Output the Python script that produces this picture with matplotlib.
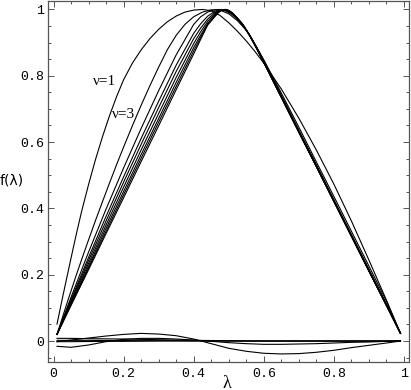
import matplotlib
matplotlib.use("Agg")
import matplotlib.pyplot as plt
from matplotlib.ticker import MultipleLocator

# lambda grid for the nu=1 and nu=3 curves
lam_a = [0.01, 0.02, 0.03, 0.04, 0.05, 0.065, 0.08, 0.10, 0.12, 0.14, 0.16, 0.18, 0.20,
         0.225, 0.25, 0.275, 0.30, 0.325, 0.35, 0.375, 0.40, 0.425, 0.45, 0.475, 0.50,
         0.525, 0.55, 0.575, 0.60, 0.65, 0.70, 0.75, 0.80, 0.85, 0.90, 0.95, 0.99]
f_nu1 = [0.051, 0.102, 0.152, 0.201, 0.250, 0.322, 0.390, 0.472, 0.548, 0.617, 0.680, 0.737, 0.788,
         0.838, 0.878, 0.912, 0.940, 0.963, 0.980, 0.992, 0.998, 1.0, 0.996, 0.982, 0.960,
         0.934, 0.905, 0.873, 0.838, 0.760, 0.672, 0.576, 0.473, 0.362, 0.244, 0.123, 0.023]
f_nu3 = [0.020, 0.053, 0.086, 0.119, 0.151, 0.199, 0.245, 0.305, 0.364, 0.421, 0.477, 0.532, 0.585,
         0.649, 0.711, 0.770, 0.826, 0.879, 0.922, 0.955, 0.978, 0.992, 0.999, 0.998, 0.987,
         0.966, 0.937, 0.893, 0.848, 0.748, 0.645, 0.540, 0.436, 0.331, 0.226, 0.120, 0.023]

# lambda grid for the higher-nu bundle (nu = 5 ... 17)
lam_b = [0.01, 0.05, 0.10, 0.15, 0.20, 0.25, 0.30, 0.35, 0.40, 0.42, 0.44, 0.46, 0.47, 0.48,
         0.49, 0.50, 0.51, 0.52, 0.54, 0.56, 0.58, 0.60, 0.65, 0.70, 0.75, 0.80, 0.85, 0.90,
         0.95, 0.99]
f_nu5 = [0.02, 0.132, 0.268, 0.398, 0.522, 0.641, 0.755, 0.863, 0.955, 0.978, 0.992, 0.999, 1.0, 0.999,
         0.996, 0.991, 0.984, 0.975, 0.952, 0.922, 0.886, 0.846, 0.741, 0.636, 0.531, 0.426, 0.321, 0.216,
         0.111, 0.023]
f_nu7 = [0.02, 0.125, 0.252, 0.376, 0.495, 0.611, 0.723, 0.832, 0.928, 0.957, 0.980, 0.994, 0.998, 1.0,
         0.998, 0.993, 0.986, 0.977, 0.953, 0.922, 0.885, 0.844, 0.739, 0.634, 0.530, 0.425, 0.320, 0.215,
         0.110, 0.023]
f_nu9 = [0.02, 0.120, 0.243, 0.362, 0.479, 0.593, 0.704, 0.813, 0.912, 0.944, 0.971, 0.990, 0.996, 0.999,
         0.999, 0.995, 0.988, 0.978, 0.954, 0.922, 0.884, 0.842, 0.737, 0.632, 0.528, 0.423, 0.318, 0.213,
         0.109, 0.023]
f_nu11 = [0.02, 0.116, 0.234, 0.350, 0.464, 0.576, 0.686, 0.795, 0.897, 0.933, 0.964, 0.986, 0.994, 0.999,
          1.0, 0.996, 0.989, 0.979, 0.955, 0.922, 0.883, 0.840, 0.735, 0.630, 0.526, 0.421, 0.316, 0.211,
          0.107, 0.023]
f_nu13 = [0.02, 0.112, 0.226, 0.340, 0.451, 0.562, 0.671, 0.780, 0.885, 0.923, 0.958, 0.982, 0.992, 0.998,
          1.0, 0.997, 0.990, 0.979, 0.955, 0.921, 0.882, 0.840, 0.735, 0.630, 0.526, 0.421, 0.316, 0.211,
          0.107, 0.023]
f_nu15 = [0.02, 0.110, 0.220, 0.331, 0.441, 0.551, 0.660, 0.768, 0.875, 0.916, 0.955, 0.979, 0.991, 0.998,
          1.0, 0.997, 0.990, 0.979, 0.955, 0.921, 0.881, 0.840, 0.735, 0.630, 0.526, 0.421, 0.316, 0.211,
          0.107, 0.023]
f_nu17 = [0.02, 0.107, 0.215, 0.324, 0.432, 0.541, 0.649, 0.758, 0.866, 0.910, 0.953, 0.978, 0.990, 0.998,
          1.0, 0.997, 0.990, 0.979, 0.955, 0.921, 0.881, 0.840, 0.735, 0.630, 0.526, 0.421, 0.316, 0.211,
          0.107, 0.023]

# small curves near zero
lam_low = [0.01, 0.05, 0.10, 0.15, 0.20, 0.25, 0.30, 0.35, 0.40, 0.45, 0.50,
           0.55, 0.60, 0.65, 0.70, 0.75, 0.80, 0.85, 0.90, 0.95, 0.99]
err_a = [0.008, 0.008, 0.007, 0.0065, 0.006, 0.005, 0.004, 0.003, 0.002, 0.0015, 0.001,
         0.0005, 0.0, 0.0, 0.0, 0.0, 0.0, 0.0, 0.0, 0.0, 0.0]
err_b = [-0.002, 0.003, 0.009, 0.015, 0.020, 0.023, 0.021, 0.016, 0.006, -0.008, -0.022,
         -0.031, -0.037, -0.039, -0.038, -0.034, -0.028, -0.020, -0.013, -0.006, 0.0]
err_c = [-0.016, -0.019, -0.012, -0.002, 0.005, 0.008, 0.008, 0.006, 0.003, -0.001, -0.005,
         -0.008, -0.010, -0.010, -0.009, -0.008, -0.006, -0.004, -0.003, -0.001, 0.0]
err_d = [-0.002, -0.002, -0.0015, -0.001, -0.001, -0.0005, 0.0, 0.0, 0.0, 0.0, 0.0,
         0.0, 0.0, 0.0, 0.0, 0.0, 0.0, 0.0, 0.0, 0.0, 0.0]
err_e = [0.002, 0.002, 0.002, 0.0015, 0.0015, 0.001, 0.001, 0.001, 0.0005, 0.0005, 0.0,
         0.0, 0.0, 0.0, 0.0, 0.0, 0.0, 0.0, 0.0, 0.0, 0.0]

x_ticks = [0, 0.2, 0.4, 0.6, 0.8, 1]
x_labels = ["0", "0.2", "0.4", "0.6", "0.8", "1"]
y_ticks = [0, 0.2, 0.4, 0.6, 0.8, 1]
y_labels = ["0", "0.2", "0.4", "0.6", "0.8", "1"]

fig = plt.figure(figsize=(4.11, 3.90), dpi=100)
ax = fig.add_axes([48 / 411, 28 / 390, 361 / 411, 361.5 / 390])

lw = 0.8
for ys in [f_nu1, f_nu3]:
    ax.plot(lam_a, ys, color="black", lw=lw)
for ys in [f_nu5, f_nu7, f_nu9, f_nu11, f_nu13, f_nu15, f_nu17]:
    ax.plot(lam_b, ys, color="black", lw=lw)
for ys in [err_a, err_b, err_c, err_d, err_e]:
    ax.plot(lam_low, ys, color="black", lw=lw)

ax.set_xlim(-0.0157, 1.0143)
ax.set_ylim(-0.0633, 1.027)

ax.set_xticks(x_ticks)
ax.set_xticklabels(x_labels)
ax.set_yticks(y_ticks)
ax.set_yticklabels(y_labels)
ax.xaxis.set_minor_locator(MultipleLocator(0.05))
ax.yaxis.set_minor_locator(MultipleLocator(0.05))
frame_col = "#555555"
ax.tick_params(which="both", direction="in", top=True, right=True, color=frame_col, width=0.7)
ax.tick_params(which="major", length=4)
ax.tick_params(which="minor", length=2.2)
ax.tick_params(axis="x", pad=4)
ax.tick_params(axis="y", pad=3)
for lab in ax.get_xticklabels() + ax.get_yticklabels():
    lab.set_family("Liberation Mono")
    lab.set_fontsize(9.5)
for sp in ax.spines.values():
    sp.set_color(frame_col)
    sp.set_linewidth(0.9)

fig.text(0 / 411, 1 - 180 / 390, "f(λ)", fontsize=10, family="DejaVu Sans",
         ha="left", va="center")
fig.text(227 / 411, 1 - 383 / 390, "λ", fontsize=13, family="Liberation Serif",
         ha="center", va="center")

ax.text(0.147, 0.784, "ν=1", fontsize=11, family="Liberation Serif", ha="center", va="center")
ax.text(0.200, 0.682, "ν=3", fontsize=11, family="Liberation Serif", ha="center", va="center")

fig.savefig("out.png", dpi=100)
